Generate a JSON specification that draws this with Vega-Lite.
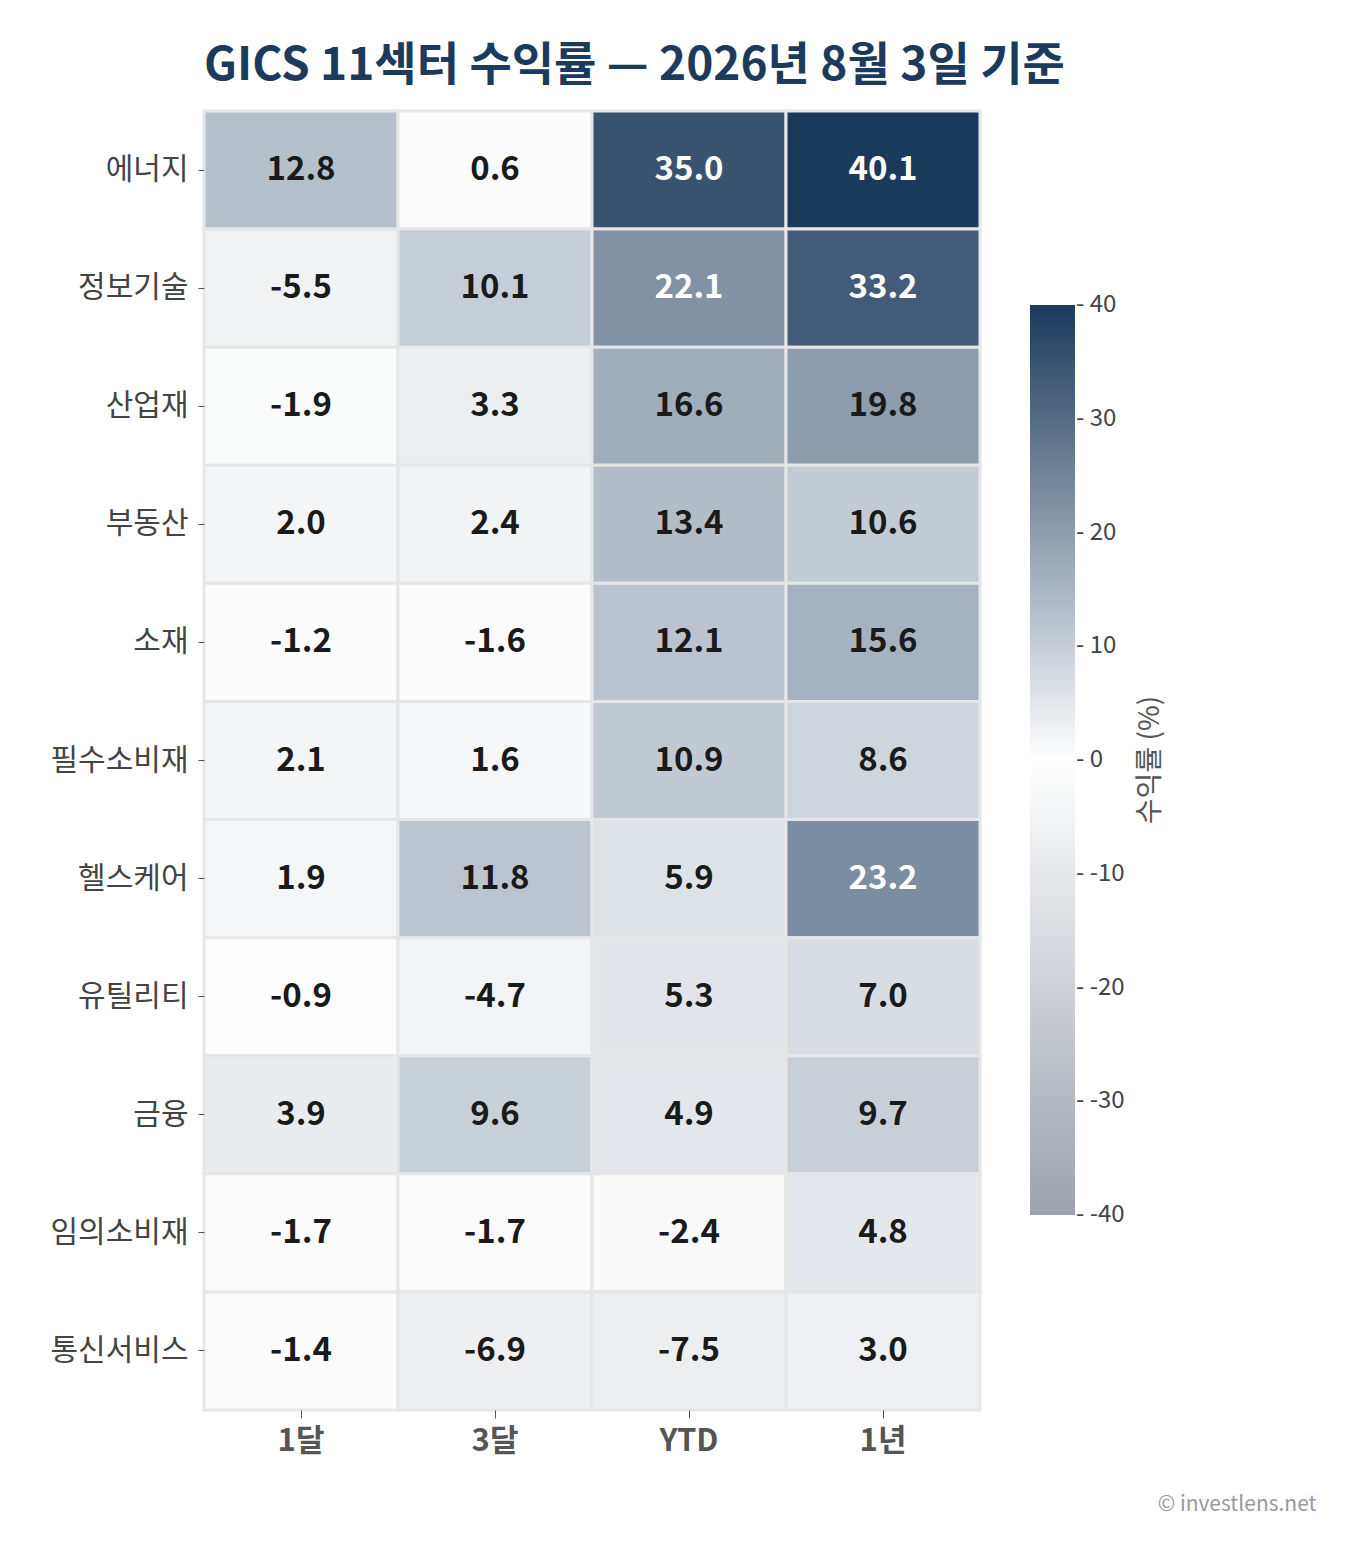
{
  "$schema": "https://vega.github.io/schema/vega-lite/v6.json",
  "width": 776,
  "height": 1299,
  "autosize": "none",
  "padding": {"left": 204, "top": 111, "right": 382, "bottom": 149},
  "background": "white",
  "title": {
    "text": "GICS 11섹터 수익률 — 2026년 8월 3일 기준",
    "anchor": "start",
    "frame": "group",
    "fontSize": 46,
    "fontWeight": "bold",
    "color": "#1b3a5c",
    "font": "Noto Sans CJK KR",
    "offset": 20
  },
  "data": {
    "values": [
      {"sector": "에너지", "period": "1달", "value": 12.8},
      {"sector": "에너지", "period": "3달", "value": 0.6},
      {"sector": "에너지", "period": "YTD", "value": 35.0},
      {"sector": "에너지", "period": "1년", "value": 40.1},
      {"sector": "정보기술", "period": "1달", "value": -5.5},
      {"sector": "정보기술", "period": "3달", "value": 10.1},
      {"sector": "정보기술", "period": "YTD", "value": 22.1},
      {"sector": "정보기술", "period": "1년", "value": 33.2},
      {"sector": "산업재", "period": "1달", "value": -1.9},
      {"sector": "산업재", "period": "3달", "value": 3.3},
      {"sector": "산업재", "period": "YTD", "value": 16.6},
      {"sector": "산업재", "period": "1년", "value": 19.8},
      {"sector": "부동산", "period": "1달", "value": 2.0},
      {"sector": "부동산", "period": "3달", "value": 2.4},
      {"sector": "부동산", "period": "YTD", "value": 13.4},
      {"sector": "부동산", "period": "1년", "value": 10.6},
      {"sector": "소재", "period": "1달", "value": -1.2},
      {"sector": "소재", "period": "3달", "value": -1.6},
      {"sector": "소재", "period": "YTD", "value": 12.1},
      {"sector": "소재", "period": "1년", "value": 15.6},
      {"sector": "필수소비재", "period": "1달", "value": 2.1},
      {"sector": "필수소비재", "period": "3달", "value": 1.6},
      {"sector": "필수소비재", "period": "YTD", "value": 10.9},
      {"sector": "필수소비재", "period": "1년", "value": 8.6},
      {"sector": "헬스케어", "period": "1달", "value": 1.9},
      {"sector": "헬스케어", "period": "3달", "value": 11.8},
      {"sector": "헬스케어", "period": "YTD", "value": 5.9},
      {"sector": "헬스케어", "period": "1년", "value": 23.2},
      {"sector": "유틸리티", "period": "1달", "value": -0.9},
      {"sector": "유틸리티", "period": "3달", "value": -4.7},
      {"sector": "유틸리티", "period": "YTD", "value": 5.3},
      {"sector": "유틸리티", "period": "1년", "value": 7.0},
      {"sector": "금융", "period": "1달", "value": 3.9},
      {"sector": "금융", "period": "3달", "value": 9.6},
      {"sector": "금융", "period": "YTD", "value": 4.9},
      {"sector": "금융", "period": "1년", "value": 9.7},
      {"sector": "임의소비재", "period": "1달", "value": -1.7},
      {"sector": "임의소비재", "period": "3달", "value": -1.7},
      {"sector": "임의소비재", "period": "YTD", "value": -2.4},
      {"sector": "임의소비재", "period": "1년", "value": 4.8},
      {"sector": "통신서비스", "period": "1달", "value": -1.4},
      {"sector": "통신서비스", "period": "3달", "value": -6.9},
      {"sector": "통신서비스", "period": "YTD", "value": -7.5},
      {"sector": "통신서비스", "period": "1년", "value": 3.0}
    ]
  },
  "transform": [
    {"calculate": "replace(format(datum.value, '.1f'), '\u2212', '-')", "as": "label"}
  ],
  "encoding": {
    "x": {
      "field": "period",
      "type": "nominal",
      "sort": ["1달", "3달", "YTD", "1년"],
      "scale": {"paddingInner": 0, "paddingOuter": 0},
      "axis": {
        "title": "© investlens.net",
        "titleFont": "Noto Sans CJK KR",
        "titleFontSize": 21,
        "titleFontWeight": "normal",
        "titleColor": "#999999",
        "titleAnchor": "end",
        "titleAlign": "right",
        "titleBaseline": "alphabetic",
        "titleX": 1112,
        "titleY": 100,
        "labelAngle": 0,
        "labelFont": "Noto Sans CJK KR",
        "labelFontSize": 31,
        "labelFontWeight": "bold",
        "labelColor": "#555555",
        "labelPadding": 8,
        "tickSize": 8,
        "tickColor": "#555555",
        "domain": false
      }
    },
    "y": {
      "field": "sector",
      "type": "nominal",
      "sort": null,
      "scale": {"paddingInner": 0, "paddingOuter": 0},
      "axis": {
        "title": null,
        "labelFont": "Noto Sans CJK KR",
        "labelFontSize": 30,
        "labelColor": "#444444",
        "labelPadding": 10,
        "tickSize": 6,
        "tickColor": "#555555",
        "domain": false
      }
    }
  },
  "layer": [
    {
      "mark": {"type": "rect", "stroke": "#e6e6e6", "strokeWidth": 3},
      "encoding": {
        "color": {
          "field": "value",
          "type": "quantitative",
          "scale": {
            "type": "linear",
            "domain": [-40, 0, 40],
            "range": ["#9ca3ae", "#ffffff", "#1b3a5c"],
            "interpolate": "rgb"
          },
          "legend": {
            "title": "수익률 (%)",
            "orient": "none",
            "legendX": 826,
            "legendY": 194,
            "direction": "vertical",
            "gradientLength": 910,
            "gradientThickness": 45,
            "gradientStrokeWidth": 0,
            "values": [40, 30, 20, 10, 0, -10, -20, -30, -40],
            "labelExpr": "'- ' + (datum.value < 0 ? '-' + abs(datum.value) : '' + datum.value)",
            "labelFont": "Noto Sans CJK KR",
            "labelFontSize": 24,
            "labelColor": "#444444",
            "labelOffset": 1,
            "labelOverlap": false,
            "titleOrient": "right",
            "titleAnchor": "middle",
            "titleFont": "Noto Sans CJK KR",
            "titleFontSize": 28,
            "titleFontWeight": "normal",
            "titleColor": "#555555",
            "titlePadding": 10,
            "encode": {
              "labels": {"update": {"baseline": {"value": "middle"}}},
              "title": {"update": {"angle": {"value": 270}, "dy": {"value": 30}}}
            }
          }
        }
      }
    },
    {
      "mark": {"type": "text", "font": "Noto Sans CJK KR", "fontSize": 33, "fontWeight": "bold"},
      "encoding": {
        "text": {"field": "label"},
        "color": {
          "condition": {"test": "datum.value > 20", "value": "#ffffff"},
          "value": "#1a1a1a"
        }
      }
    }
  ]
}
